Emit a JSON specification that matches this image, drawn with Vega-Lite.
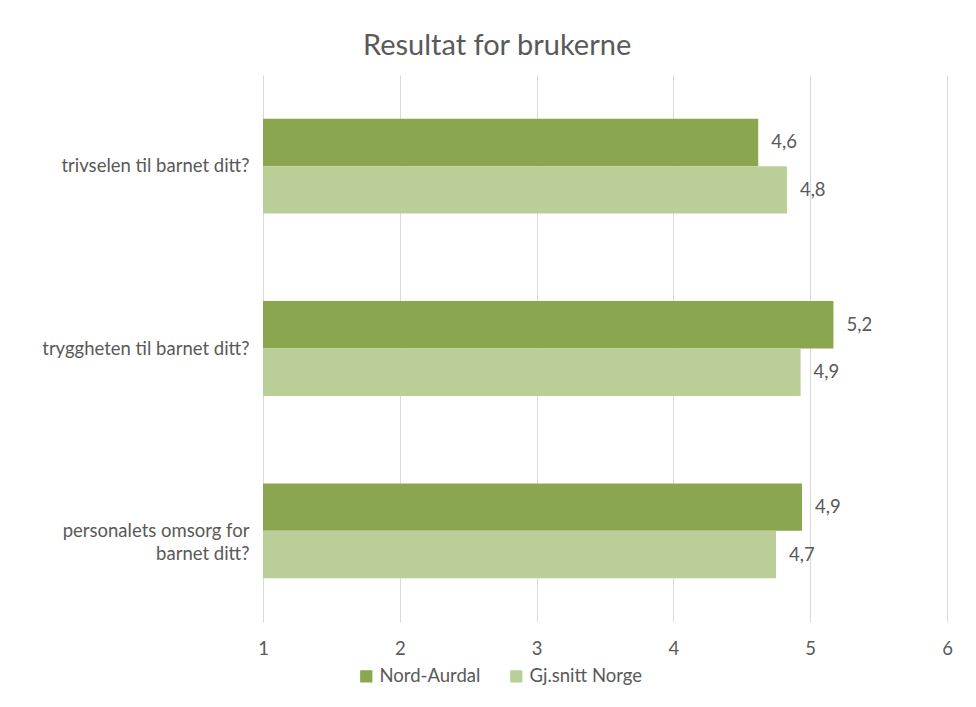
{
  "$schema": "https://vega.github.io/schema/vega-lite/v6.json",
  "autosize": {"type": "none"},
  "width": 684,
  "height": 547,
  "padding": {"left": 263, "top": 75, "right": 29, "bottom": 85},
  "background": "white",
  "title": {
    "text": "Resultat for brukerne",
    "anchor": "middle",
    "frame": "bounds",
    "fontSize": 29,
    "font": "Lato",
    "fontWeight": "normal",
    "color": "#595959",
    "offset": 14
  },
  "data": {
    "values": [
      {"sporsmal": "trivselen til barnet ditt?", "serie": "Nord-Aurdal", "verdi": 4.62, "etikett": "4,6"},
      {"sporsmal": "trivselen til barnet ditt?", "serie": "Gj.snitt Norge", "verdi": 4.83, "etikett": "4,8"},
      {"sporsmal": "tryggheten til barnet ditt?", "serie": "Nord-Aurdal", "verdi": 5.17, "etikett": "5,2"},
      {"sporsmal": "tryggheten til barnet ditt?", "serie": "Gj.snitt Norge", "verdi": 4.93, "etikett": "4,9"},
      {"sporsmal": "personalets omsorg for barnet ditt?", "serie": "Nord-Aurdal", "verdi": 4.94, "etikett": "4,9"},
      {"sporsmal": "personalets omsorg for barnet ditt?", "serie": "Gj.snitt Norge", "verdi": 4.75, "etikett": "4,7"}
    ]
  },
  "encoding": {
    "y": {
      "field": "sporsmal",
      "type": "nominal",
      "sort": null,
      "title": null,
      "scale": {"paddingInner": 0.48, "paddingOuter": 0.24},
      "axis": {
        "domain": false,
        "ticks": false,
        "labelFont": "Lato",
        "labelFontSize": 18.5,
        "labelColor": "#595959",
        "labelPadding": 14,
        "labelLineHeight": 23,
        "labelLimit": 300,
        "labelExpr": "datum.label == 'personalets omsorg for barnet ditt?' ? ['personalets omsorg for', 'barnet ditt?'] : datum.label"
      }
    },
    "yOffset": {
      "field": "serie",
      "type": "nominal",
      "sort": ["Nord-Aurdal", "Gj.snitt Norge"],
      "scale": {"paddingInner": 0, "paddingOuter": 0}
    },
    "x": {
      "field": "verdi",
      "type": "quantitative",
      "title": null,
      "scale": {"domain": [1, 6], "zero": false, "nice": false},
      "axis": {
        "values": [1, 2, 3, 4, 5, 6],
        "domain": false,
        "ticks": false,
        "grid": true,
        "gridColor": "#d9d9d9",
        "labelFont": "Lato",
        "labelFontSize": 18.5,
        "labelColor": "#595959",
        "labelPadding": 17,
        "labelFlush": false
      }
    }
  },
  "layer": [
    {
      "mark": {"type": "bar"},
      "encoding": {
        "x2": {"datum": 1},
        "color": {
          "field": "serie",
          "type": "nominal",
          "title": null,
          "scale": {"domain": ["Nord-Aurdal", "Gj.snitt Norge"], "range": ["#8aa64f", "#b9cf97"]},
          "legend": {
            "orient": "none",
            "direction": "horizontal",
            "legendX": 94,
            "legendY": 592,
            "symbolType": "square",
            "symbolSize": 150,
            "symbolStrokeWidth": 0,
            "labelFont": "Lato",
            "labelFontSize": 18.5,
            "labelColor": "#595959",
            "labelOffset": 4,
            "columnPadding": 26
          }
        }
      }
    },
    {
      "mark": {"type": "text", "align": "left", "dx": 13, "font": "Lato", "fontSize": 18.5, "color": "#595959"},
      "encoding": {
        "text": {"field": "etikett"}
      }
    }
  ],
  "config": {
    "view": {"stroke": null}
  }
}
